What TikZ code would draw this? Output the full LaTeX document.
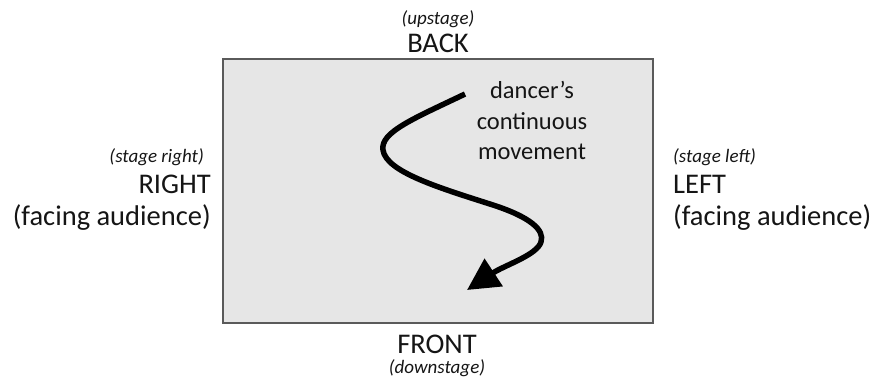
\documentclass[tikz,border=0pt]{standalone}
\usepackage{fontspec}
\setmainfont{Carlito}
\usetikzlibrary{arrows.meta}
\definecolor{stagefill}{HTML}{E6E6E6}
\definecolor{stageedge}{HTML}{5A5A5A}
\definecolor{ink}{HTML}{151515}
\tikzset{
  big/.style={inner sep=0pt, text=ink, font=\fontsize{28.5}{31}\selectfont},
  small/.style={inner sep=0pt, text=ink, font=\fontsize{19}{21}\selectfont\itshape},
  mid/.style={inner sep=0pt, text=ink, font=\fontsize{24.5}{29}\selectfont},
  stagebox/.style={fill=stagefill, draw=stageedge, line width=1.5pt},
  movepath/.style={line width=5.5pt, draw=black, -{Triangle[length=32pt,width=32pt]}}
}
\begin{document}
\begin{tikzpicture}[x=1pt,y=-1pt]
\useasboundingbox (0,0) rectangle (875,378);
\draw[stagebox] (223,59) rectangle (653,323);
\node[small, anchor=base] (up) at (438,24) {(upstage)};
\node[big, anchor=base] (back) at (438,52) {BACK};
\node[big, anchor=base] (front) at (437,353) {FRONT};
\node[small, anchor=base] (down) at (437,373) {(downstage)};
\node[small, anchor=base east] (sr) at (204,162) {(stage right)};
\node[big, anchor=base east] (right) at (211,193) {RIGHT};
\node[big, anchor=base east] (fr) at (211,225) {(facing audience)};
\node[small, anchor=base west] (sl) at (673,162) {(stage left)};
\node[big, anchor=base west] (left) at (673,193) {LEFT};
\node[big, anchor=base west] (fl) at (673,225) {(facing audience)};
\node[mid, anchor=base] (d1) at (532,98) {dancer’s};
\node[mid, anchor=base] (d2) at (532,129) {continuous};
\node[mid, anchor=base] (d3) at (532,159) {movement};
\coordinate (s) at (465,94);
\coordinate (e) at (467,290);
\draw[movepath] (s) .. controls (415,118) and (380,132) .. (383,150)
  .. controls (386,172) and (440,188) .. (493,205)
  .. controls (530,217) and (545,230) .. (541,242)
  .. controls (537,255) and (505,265) .. (e);
\end{tikzpicture}
\end{document}
